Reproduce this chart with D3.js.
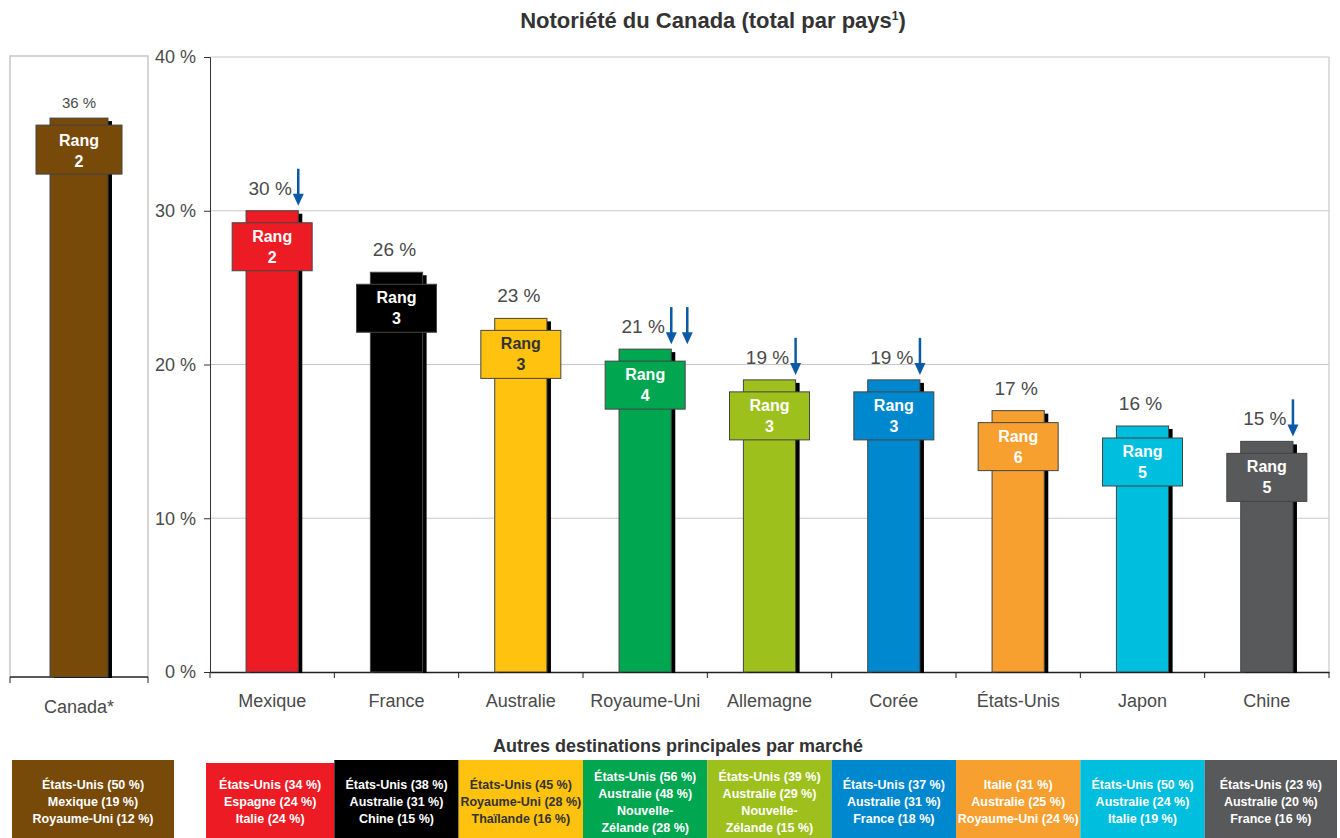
<!DOCTYPE html>
<html>
<head>
<meta charset="utf-8">
<script src="https://cdn.jsdelivr.net/npm/d3@7"></script>
<style>
  body { margin: 0; background: #fff; }
  svg { font-family: "Liberation Sans", Arial, sans-serif; }
</style>
</head>
<body>
<div id="chart"></div>
<script>
// data
let categories = ["Mexique", "France", "Australie", "Royaume-Uni", "Allemagne", "Corée", "États-Unis", "Japon", "Chine"];
let values = [30, 26, 23, 21, 19, 19, 17, 16, 15];
let ranks = [2, 3, 3, 4, 3, 3, 6, 5, 5];
let colors = ["#ed1c24", "#000000", "#ffc20e", "#00a650", "#9dc01c", "#0088cf", "#f7a030", "#00bede", "#58595b"];
let darkText = [false, false, true, false, false, false, false, false, false];
let arrowCounts = [1, 0, 0, 2, 1, 1, 0, 0, 1];
let otherDestinations = [
    ["États-Unis (34 %)", "Espagne (24 %)", "Italie (24 %)"],
    ["États-Unis (38 %)", "Australie (31 %)", "Chine (15 %)"],
    ["États-Unis (45 %)", "Royaume-Uni (28 %)", "Thaïlande (16 %)"],
    ["États-Unis (56 %)", "Australie (48 %)", "Nouvelle-", "Zélande (28 %)"],
    ["États-Unis (39 %)", "Australie (29 %)", "Nouvelle-", "Zélande (15 %)"],
    ["États-Unis (37 %)", "Australie (31 %)", "France (18 %)"],
    ["Italie (31 %)", "Australie (25 %)", "Royaume-Uni (24 %)"],
    ["États-Unis (50 %)", "Australie (24 %)", "Italie (19 %)"],
    ["États-Unis (23 %)", "Australie (20 %)", "France (16 %)"]
];
let canadaLabel = "Canada*";
let canadaValue = 36;
let canadaRank = 2;
let canadaColor = "#774a09";
let canadaDestinations = ["États-Unis (50 %)", "Mexique (19 %)", "Royaume-Uni (12 %)"];
let yTicks = [0, 10, 20, 30, 40];

let width = 1340, height = 838;
let arrowColor = "#0b5aa5";
let gridColor = "#c8c8c8";
let labelColor = "#4a4a4a";

let svg = d3.select("#chart")
    .append("svg")
    .attr("width", width)
    .attr("height", height);

// title
let title = svg.append("text")
    .attr("x", 713).attr("y", 28)
    .attr("text-anchor", "middle")
    .style("font-size", "22px").style("font-weight", "bold")
    .attr("fill", "#333");
title.append("tspan").text("Notoriété du Canada (total par pays");
title.append("tspan").attr("dy", -8).style("font-size", "12px").text("1");
title.append("tspan").attr("dy", 8).text(")");

// ---------- main chart ----------
let y = d3.scaleLinear().domain([0, 40]).range([672, 57]);
let x = d3.scaleBand().domain(categories).range([210, 1329]);
let barW = x.bandwidth() * 0.42;
let boxW = 80, boxH = 48;

let main = svg.append("g");

main.selectAll(".grid")
    .data(yTicks.filter(d => d > 0))
    .enter().append("line")
    .attr("x1", 210).attr("x2", 1329)
    .attr("y1", d => y(d)).attr("y2", d => y(d))
    .attr("stroke", gridColor).attr("stroke-width", 1.2);

main.append("line")
    .attr("x1", 1329).attr("x2", 1329)
    .attr("y1", y(40)).attr("y2", y(0))
    .attr("stroke", gridColor).attr("stroke-width", 1.2);

let yAxis = main.append("g")
    .attr("transform", "translate(210,0)")
    .call(d3.axisLeft(y).tickValues(yTicks).tickSize(6).tickPadding(8).tickFormat(d => d + " %"));
yAxis.select(".domain").attr("stroke", "#333");
yAxis.selectAll(".tick line").attr("stroke", "#333");
yAxis.selectAll("text").style("font-size", "18px").attr("fill", labelColor);

let xAxis = main.append("g")
    .attr("transform", `translate(0,${y(0)})`)
    .call(d3.axisBottom(x).tickSize(0).tickPadding(22));
xAxis.select(".domain").attr("stroke", "#222").attr("stroke-width", 1.5);
xAxis.selectAll("text").style("font-size", "18px").attr("fill", labelColor);

// tick marks at band boundaries
main.selectAll(".bt")
    .data(categories.concat(["end"]))
    .enter().append("line")
    .attr("x1", (d, i) => i < categories.length ? x(d) : x.range()[1])
    .attr("x2", (d, i) => i < categories.length ? x(d) : x.range()[1])
    .attr("y1", y(0)).attr("y2", y(0) + 6)
    .attr("stroke", "#222");

let bars = main.selectAll(".bar")
    .data(categories.map((c, i) => ({ c, i, v: values[i] })))
    .enter().append("g");

let barX = d => x(d.c) + (x.bandwidth() - barW) / 2;

bars.append("rect")
    .attr("x", d => barX(d) + 4)
    .attr("y", d => y(d.v) + 3)
    .attr("width", barW)
    .attr("height", d => y(0) - y(d.v) - 2)
    .attr("fill", "#000");

bars.append("rect")
    .attr("x", d => barX(d))
    .attr("y", d => y(d.v))
    .attr("width", barW)
    .attr("height", d => y(0) - y(d.v))
    .attr("fill", d => colors[d.i])
    .attr("stroke", "#444").attr("stroke-width", 1);

bars.append("rect")
    .attr("x", d => x(d.c) + x.bandwidth() / 2 - boxW / 2)
    .attr("y", d => y(d.v) + 12)
    .attr("width", boxW)
    .attr("height", boxH)
    .attr("fill", d => colors[d.i])
    .attr("stroke", "#444").attr("stroke-width", 1);

bars.append("text")
    .attr("x", d => x(d.c) + x.bandwidth() / 2)
    .attr("y", d => y(d.v) + 31)
    .attr("text-anchor", "middle")
    .style("font-size", "16px").style("font-weight", "bold")
    .attr("fill", d => darkText[d.i] ? "#333" : "#fff")
    .text("Rang");

bars.append("text")
    .attr("x", d => x(d.c) + x.bandwidth() / 2)
    .attr("y", d => y(d.v) + 52)
    .attr("text-anchor", "middle")
    .style("font-size", "16px").style("font-weight", "bold")
    .attr("fill", d => darkText[d.i] ? "#333" : "#fff")
    .text(d => ranks[d.i]);

bars.append("text")
    .attr("x", d => x(d.c) + x.bandwidth() / 2 - 2)
    .attr("y", d => y(d.v) - 16)
    .attr("text-anchor", "middle")
    .style("font-size", "19px")
    .attr("fill", labelColor)
    .text(d => d.v + " %");

// decline arrows
let arrows = [];
categories.forEach((c, i) => {
    for (let k = 0; k < arrowCounts[i]; k++) arrows.push({ c, i, k, v: values[i] });
});
let arrowG = main.selectAll(".arrow")
    .data(arrows)
    .enter().append("g")
    .attr("transform", d => `translate(${barX(d) + barW + d.k * 16},${y(d.v) - 5})`);
arrowG.append("line")
    .attr("x1", 0).attr("x2", 0)
    .attr("y1", -37).attr("y2", -10)
    .attr("stroke", arrowColor).attr("stroke-width", 2.5);
arrowG.append("path")
    .attr("d", "M-5.5,-12 L5.5,-12 L0,0 Z")
    .attr("fill", arrowColor);

// ---------- Canada panel ----------
let yc = d3.scaleLinear().domain([0, 40]).range([677, 56]);
let xc = d3.scaleBand().domain([canadaLabel]).range([10, 148]);
let cBarW = xc.bandwidth() * 0.42;
let cBoxW = 86;
let cx = xc(canadaLabel) + (xc.bandwidth() - cBarW) / 2;
let cMid = xc(canadaLabel) + xc.bandwidth() / 2;

let cg = svg.append("g");
cg.append("path")
    .attr("d", `M10,${yc(0)} V${yc(40)} H148 V${yc(0)}`)
    .attr("fill", "none").attr("stroke", gridColor).attr("stroke-width", 1.5);
cg.append("line")
    .attr("x1", 10).attr("x2", 148).attr("y1", yc(0)).attr("y2", yc(0))
    .attr("stroke", "#222").attr("stroke-width", 1.5);
cg.selectAll(".ct").data([10, 148]).enter().append("line")
    .attr("x1", d => d).attr("x2", d => d)
    .attr("y1", yc(0)).attr("y2", yc(0) + 6)
    .attr("stroke", "#222");

cg.append("rect")
    .attr("x", cx + 4).attr("y", yc(canadaValue) + 3)
    .attr("width", cBarW).attr("height", yc(0) - yc(canadaValue) - 2)
    .attr("fill", "#000");
cg.append("rect")
    .attr("x", cx).attr("y", yc(canadaValue))
    .attr("width", cBarW).attr("height", yc(0) - yc(canadaValue))
    .attr("fill", canadaColor).attr("stroke", "#444");
cg.append("rect")
    .attr("x", cMid - cBoxW / 2).attr("y", yc(canadaValue) + 7)
    .attr("width", cBoxW).attr("height", 49)
    .attr("fill", canadaColor).attr("stroke", "#444");
cg.append("text")
    .attr("x", cMid).attr("y", yc(canadaValue) + 28)
    .attr("text-anchor", "middle")
    .style("font-size", "16px").style("font-weight", "bold").attr("fill", "#fff")
    .text("Rang");
cg.append("text")
    .attr("x", cMid).attr("y", yc(canadaValue) + 49)
    .attr("text-anchor", "middle")
    .style("font-size", "16px").style("font-weight", "bold").attr("fill", "#fff")
    .text(canadaRank);
cg.append("text")
    .attr("x", cMid).attr("y", yc(canadaValue) - 10)
    .attr("text-anchor", "middle")
    .style("font-size", "15px").attr("fill", labelColor)
    .text(canadaValue + " %");
cg.append("text")
    .attr("x", cMid).attr("y", 713)
    .attr("text-anchor", "middle")
    .style("font-size", "18px").attr("fill", labelColor)
    .text(canadaLabel);

// ---------- other destinations ----------
svg.append("text")
    .attr("x", 678).attr("y", 752)
    .attr("text-anchor", "middle")
    .style("font-size", "18px").style("font-weight", "bold")
    .attr("fill", "#333")
    .text("Autres destinations principales par marché");

let lineH = 17;
let drawBox = (g, x0, x1, top, fill, lines, dark) => {
    g.append("rect")
        .attr("x", x0).attr("y", top)
        .attr("width", x1 - x0).attr("height", height - top)
        .attr("fill", fill);
    let mid = 801;
    lines.forEach((t, j) => {
        g.append("text")
            .attr("x", (x0 + x1) / 2)
            .attr("y", mid + (j - (lines.length - 1) / 2) * lineH + 5)
            .attr("text-anchor", "middle")
            .style("font-size", "12.5px").style("font-weight", "bold")
            .attr("fill", dark ? "#333" : "#fff")
            .text(t);
    });
};

let dest = svg.append("g");
drawBox(dest, 12, 174, 760, canadaColor, canadaDestinations, false);
categories.forEach((c, i) => {
    let x0 = i === 0 ? x(c) - 4 : x(c);
    let x1 = i === categories.length - 1 ? width - 3 : x(c) + x.bandwidth();
    drawBox(dest, x0, x1, i === 0 ? 763 : 760, colors[i], otherDestinations[i], darkText[i]);
});
</script>
</body>
</html>
